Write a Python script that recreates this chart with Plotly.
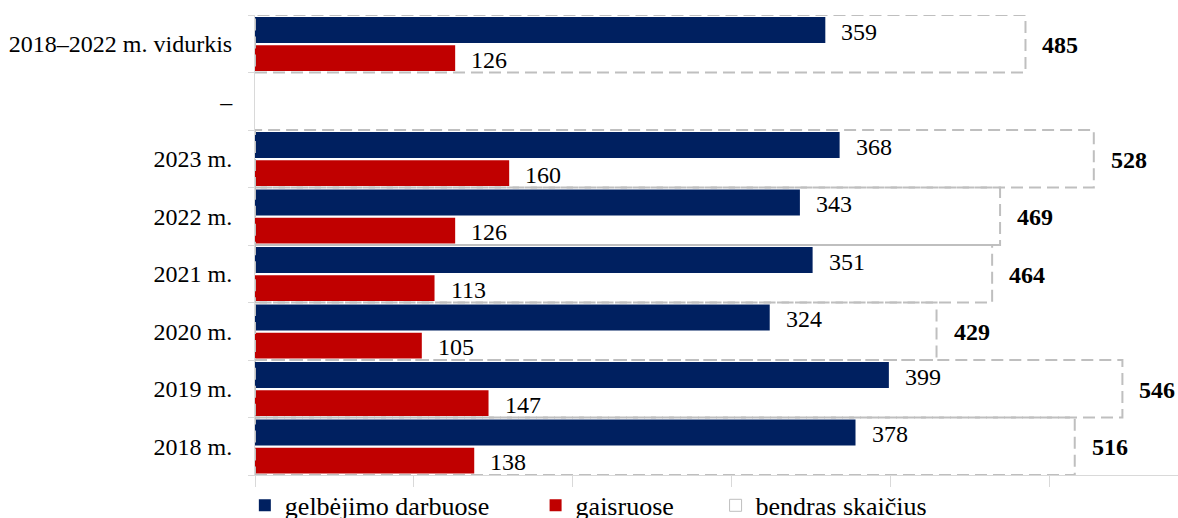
import plotly.graph_objects as go

# categories listed top to bottom, as in the chart
categories = ["2018–2022 m. vidurkis", "–", "2023 m.", "2022 m.", "2021 m.",
              "2020 m.", "2019 m.", "2018 m."]
gelbejimo = [359, None, 368, 343, 351, 324, 399, 378]
gaisruose = [126, None, 160, 126, 113, 105, 147, 138]
bendras = [485, None, 528, 469, 464, 429, 546, 516]
x_ticks = [0, 100, 200, 300, 400, 500]

BLUE = "#002060"
RED = "#C00000"
GREY = "#BFBFBF"
AXIS = "#D9D9D9"
FONT = "Liberation Serif"
SIZE = 24
txt = dict(family=FONT, size=SIZE, color="black")

n = len(categories)
pos = [n - 1 - i for i in range(n)]  # first category drawn on top

fig = go.Figure()
fig.add_trace(go.Bar(y=pos, x=gelbejimo, orientation="h", name="gelbėjimo darbuose",
                     marker=dict(color=BLUE, line_width=0), offset=0.015, width=0.45,
                     legend="legend"))
fig.add_trace(go.Bar(y=pos, x=gaisruose, orientation="h", name="gaisruose",
                     marker=dict(color=RED, line_width=0), offset=-0.475, width=0.45,
                     legend="legend2"))
# legend entry only, the boxes themselves are dashed shapes below
fig.add_trace(go.Bar(y=[None], x=[None], orientation="h", name="bendras skaičius",
                     marker=dict(color="white", line=dict(color=GREY, width=1)),
                     legend="legend3"))

for p, b, r, t in zip(pos, gelbejimo, gaisruose, bendras):
    if t is None:
        continue
    fig.add_shape(type="rect", x0=0, x1=t, y0=p - 0.5, y1=p + 0.5, layer="above",
                  line=dict(color=GREY, width=2, dash="12px,6px"))
    fig.add_annotation(x=b, y=p + 0.24, text=str(b), xanchor="left", xshift=14, yshift=-2,
                       showarrow=False, font=txt)
    fig.add_annotation(x=r, y=p - 0.24, text=str(r), xanchor="left", xshift=14, yshift=-2,
                       showarrow=False, font=txt)
    fig.add_annotation(x=t, y=p, text="<b>%d</b>" % t, xanchor="left", xshift=15, yshift=-1,
                       showarrow=False, font=txt)

fig.update_yaxes(range=[-0.5, n - 0.5], tickvals=pos, ticktext=categories, ticks="",
                 showline=True, linecolor=AXIS, linewidth=1, showgrid=False, zeroline=False,
                 ticklabelstandoff=17, automargin=False, tickfont=txt,
                 minor=dict(tickvals=[k - 0.5 for k in range(n + 1)], ticks="outside",
                            ticklen=6, tickcolor=AXIS, showgrid=False))
fig.update_xaxes(range=[0, 581], tickvals=x_ticks, showticklabels=False, ticks="outside",
                 ticklen=11, tickcolor=AXIS, showline=True, linecolor=AXIS,
                 showgrid=False, zeroline=False, automargin=False)

leg = dict(orientation="h", xanchor="left", y=-0.015, yanchor="top",
           font=dict(family=FONT, size=26, color="black"), bgcolor="rgba(0,0,0,0)")
fig.update_layout(width=1178, height=518, barmode="overlay", showlegend=True,
                  margin=dict(l=255, r=0, t=15, b=43, autoexpand=False),
                  plot_bgcolor="white", paper_bgcolor="white", font=txt,
                  legend=dict(leg, x=-0.011),
                  legend2=dict(leg, x=0.304),
                  legend3=dict(leg, x=0.499))

# drop the default 8px body margin so the figure fills the window exactly
fig.write_html("out.html", config={"displayModeBar": False},
               post_script="document.body.style.margin='0';")
